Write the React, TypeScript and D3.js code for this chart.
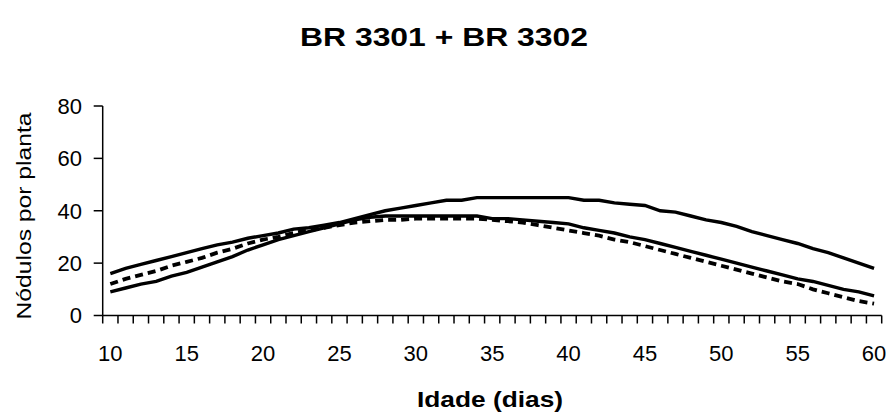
import React from "react";
import * as d3 from "d3";

const days: number[] = d3.range(10, 61);

const seriesUpper: number[] = [
  16, 18, 19.5, 21, 22.5, 24, 25.5, 27, 28, 29.5,
  30.5, 31.5, 33, 33.5, 34.5, 35.5, 37, 38.5, 40, 41,
  42, 43, 44, 44, 45, 45, 45, 45, 45, 45,
  45, 44, 44, 43, 42.5, 42, 40, 39.5, 38, 36.5,
  35.5, 34, 32, 30.5, 29, 27.5, 25.5, 24, 22, 20,
  18,
];

const seriesLower: number[] = [
  9, 10.5, 12, 13, 15, 16.5, 18.5, 20.5, 22.5, 25,
  27, 29, 30.5, 32, 33.5, 35, 36.5, 37.5, 38, 38,
  38, 38, 38, 38, 38, 37, 37, 36.5, 36, 35.5,
  35, 33.5, 32.5, 31.5, 30, 29, 27.5, 26, 24.5, 23,
  21.5, 20, 18.5, 17, 15.5, 14, 13, 11.5, 10, 9,
  7.5,
];

const seriesDashed: number[] = [
  12, 14, 15.5, 17, 19, 20.5, 22, 24, 25.5, 27.5,
  29, 30, 31.5, 32.5, 33.5, 34.5, 35.5, 36, 36.5, 36.5,
  37, 37, 37, 37, 37, 36.5, 36, 35.5, 34.5, 33.5,
  32.5, 31.5, 30.5, 29, 28, 26.5, 25, 23.5, 22, 20.5,
  19, 17.5, 16, 14.5, 13, 12, 10, 8.5, 7, 5.5,
  4.5,
];

const yTicks: number[] = [0, 20, 40, 60, 80];
const xLabelTicks: number[] = [10, 15, 20, 25, 30, 35, 40, 45, 50, 55, 60];

const title = "BR 3301 + BR 3302";
const xTitle = "Idade (dias)";
const yTitle = "Nódulos por planta";

export default function App() {
  const W = 890;
  const H = 413;
  const x = d3.scaleLinear().domain([9.5, 60.5]).range([102.7, 881.7]);
  const y = d3.scaleLinear().domain([0, 80]).range([315.5, 106]);

  const line = d3
    .line<number>()
    .x((_, i) => x(days[i]))
    .y((v) => y(v));

  const boundaries = d3.range(9.5, 61, 1);
  const font = "Liberation Sans, Arial, sans-serif";

  return (
    <svg
      width={W}
      height={H}
      style={{ position: "absolute", left: 0, top: 0, background: "#fff" }}
      fontFamily={font}
    >
      <rect width={W} height={H} fill="#fff" />
      <text
        x={444}
        y={46}
        textAnchor="middle"
        fontSize={26}
        fontWeight="bold"
        textLength={288}
        lengthAdjust="spacingAndGlyphs"
      >
        {title}
      </text>

      {/* y axis */}
      <line x1={x(9.5)} x2={x(9.5)} y1={y(80)} y2={y(0)} stroke="#000" strokeWidth={1.5} />
      {yTicks.map((t) => (
        <g key={t}>
          <line x1={x(9.5) - 9} x2={x(9.5)} y1={y(t)} y2={y(t)} stroke="#000" strokeWidth={1.5} />
          <text x={82} y={y(t)} dy="0.36em" textAnchor="end" fontSize={22}>
            {t}
          </text>
        </g>
      ))}

      {/* x axis */}
      <line x1={x(9.5)} x2={x(60.5)} y1={y(0)} y2={y(0)} stroke="#000" strokeWidth={1.5} />
      {boundaries.map((b) => (
        <line key={b} x1={x(b)} x2={x(b)} y1={y(0)} y2={y(0) + 8} stroke="#000" strokeWidth={1.5} />
      ))}
      {xLabelTicks.map((t) => (
        <text key={t} x={x(t)} y={361} textAnchor="middle" fontSize={22}>
          {t}
        </text>
      ))}

      <text
        x={490}
        y={407}
        textAnchor="middle"
        fontSize={22}
        fontWeight="bold"
        textLength={146}
        lengthAdjust="spacingAndGlyphs"
      >
        {xTitle}
      </text>
      <text
        transform={`translate(31,216) rotate(-90)`}
        textAnchor="middle"
        fontSize={21}
        textLength={207}
        lengthAdjust="spacingAndGlyphs"
      >
        {yTitle}
      </text>

      <path d={line(seriesUpper) || ""} fill="none" stroke="#000" strokeWidth={3.4} />
      <path d={line(seriesLower) || ""} fill="none" stroke="#000" strokeWidth={3.4} />
      <path
        d={line(seriesDashed) || ""}
        fill="none"
        stroke="#000"
        strokeWidth={3.8}
        strokeDasharray="8,5"
      />
    </svg>
  );
}
